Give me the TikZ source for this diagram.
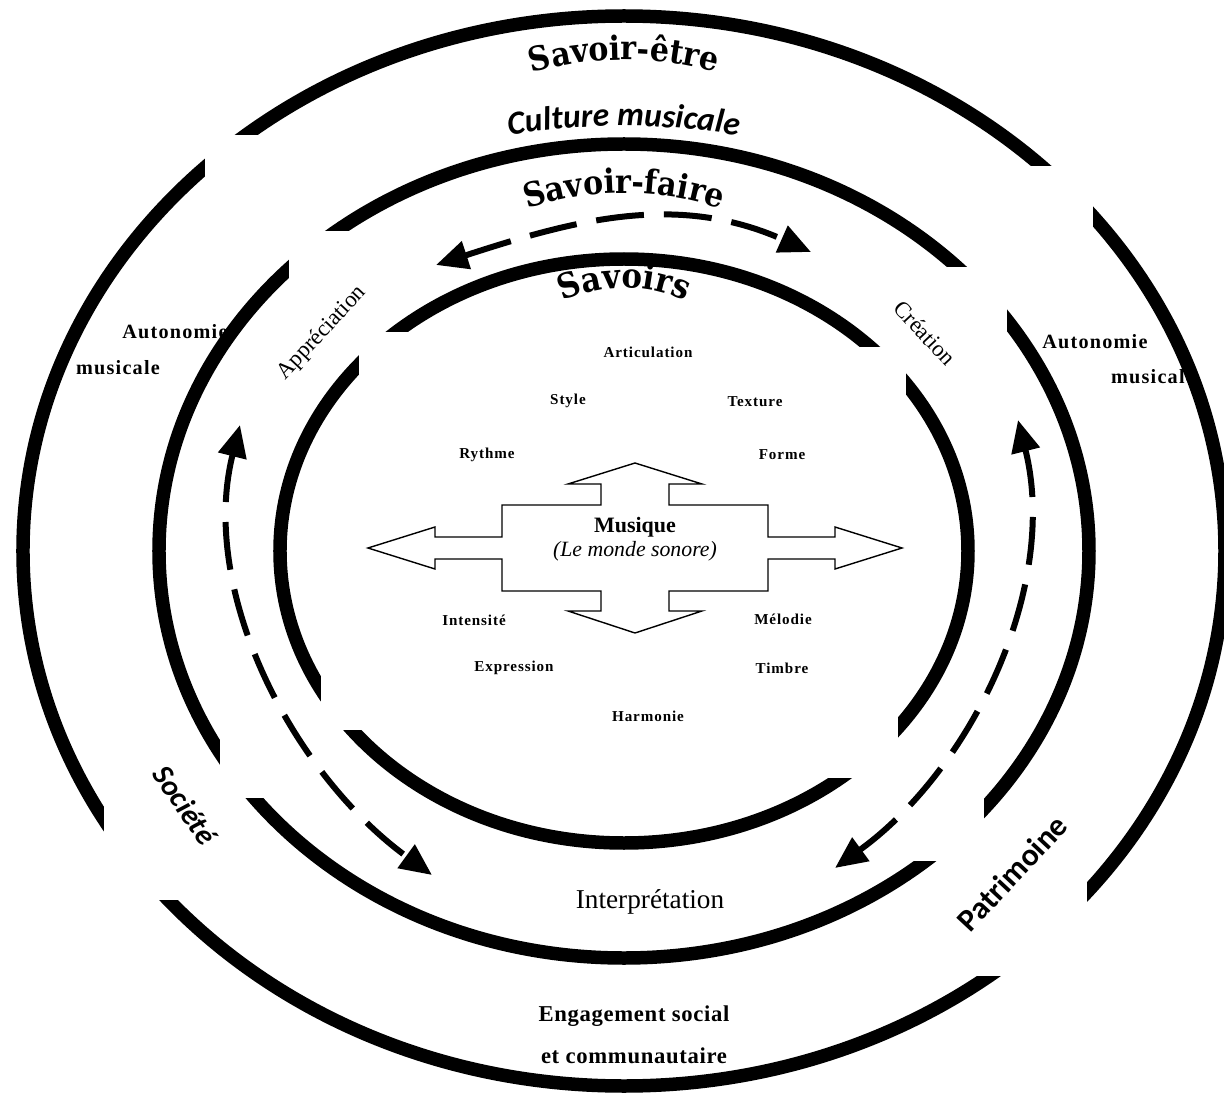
\documentclass[tikz,border=0pt]{standalone}
\usepackage{fontspec}
\setmainfont{Liberation Serif}
\newfontfamily\arcfont{DejaVu Serif Condensed}
\newfontfamily\humfont{Carlito}
\newfontfamily\spacedfont[LetterSpace=6]{Liberation Serif}
\newfontfamily\widefont[LetterSpace=3]{Liberation Serif}
\usetikzlibrary{arrows.meta,decorations.text}

\begin{document}
\begin{tikzpicture}[
  x=0.02cm, y=0.02cm,
  ringline/.style={line width=0.27cm},
  cyclearrow/.style={line width=0.12cm, dash pattern=on 0.96cm off 0.4cm,
    {Triangle[length=0.64cm,width=0.56cm]}-{Triangle[length=0.64cm,width=0.56cm]}},
  elem/.style={font=\spacedfont\bfseries\fontsize{8.6}{10}\selectfont},
  zone/.style={font=\spacedfont\bfseries\fontsize{11.5}{13}\selectfont},
  arclabel/.style={decorate, decoration={text along path, text align=center, text={#1}}}
]
  \useasboundingbox (-624,-548) rectangle (600,551);
  \fill[white] (-624,-548) rectangle (600,551);

  % outer ring
  \begin{scope}
    \clip (-419,416) -- (0,416) -- (0,385) -- (469,385) -- (469,700) -- (-419,700) -- cycle
          (-700,416) -- (-419,416) -- (-419,0) -- (-520,0) -- (-520,-349) -- (-700,-349) -- cycle
          (469,385) -- (700,385) -- (700,-425) -- (463,-425) -- (463,0) -- (469,0) -- cycle
          (-520,-349) -- (0,-349) -- (0,-425) -- (463,-425) -- (463,-700) -- (-520,-700) -- cycle;
    \draw[ringline] (0,0) ellipse [x radius=601, y radius=535];
  \end{scope}

  % middle ring
  \begin{scope}
    \clip (-335,320) -- (0,320) -- (0,284) -- (383,284) -- (383,700) -- (-335,700) -- cycle
          (-700,320) -- (-335,320) -- (-335,0) -- (-404,0) -- (-404,-247) -- (-700,-247) -- cycle
          (383,284) -- (700,284) -- (700,-310) -- (360,-310) -- (360,0) -- (383,0) -- cycle
          (-404,-247) -- (0,-247) -- (0,-310) -- (360,-310) -- (360,-700) -- (-404,-700) -- cycle;
    \draw[ringline] (0,0) ellipse [x radius=465, y radius=407];
  \end{scope}

  % inner ring
  \begin{scope}
    \clip (-265,219) -- (0,219) -- (0,204) -- (282,204) -- (282,700) -- (-265,700) -- cycle
          (-700,219) -- (-265,219) -- (-265,0) -- (-303,0) -- (-303,-179) -- (-700,-179) -- cycle
          (282,204) -- (700,204) -- (700,-227) -- (274,-227) -- (274,0) -- (282,0) -- cycle
          (-303,-179) -- (0,-179) -- (0,-227) -- (274,-227) -- (274,-700) -- (-303,-700) -- cycle;
    \draw[ringline] (0,0) ellipse [x radius=344, y radius=292];
  \end{scope}

  % ring titles
  \path[arclabel={|\arcfont\bfseries\fontsize{19}{19}\selectfont|Savoir-être}]
    ([shift={(0,151)}]112:340) arc[start angle=112, end angle=68, radius=340];
  \path[arclabel={|\humfont\bfseries\itshape\fontsize{19}{19}\selectfont|Culture musicale}]
    ([shift={(0,-259)}]106:684) arc[start angle=106, end angle=74, radius=684];
  \path[arclabel={|\arcfont\bfseries\fontsize{19}{19}\selectfont|Savoir-faire}]
    ([shift={(0,49)}]116:309) arc[start angle=116, end angle=64, radius=309];
  \path[arclabel={|\arcfont\bfseries\fontsize{19.5}{19.5}\selectfont|Savoirs}]
    ([shift={(0,113)}]130:150) arc[start angle=130, end angle=50, radius=150];

  % central arrows
  \coordinate (mus) at (11,3);
  \begin{scope}[shift={(mus)}]
    \draw[line width=0.8pt] (0,85) -- (67,64) -- (34,64) -- (34,43) -- (133,43) -- (133,11)
      -- (200,11) -- (200,21) -- (267,0) -- (200,-21) -- (200,-11) -- (133,-11) -- (133,-43)
      -- (34,-43) -- (34,-63) -- (67,-63) -- (0,-85) -- (-67,-63) -- (-34,-63) -- (-34,-43)
      -- (-133,-43) -- (-133,-11) -- (-200,-11) -- (-200,-21) -- (-267,0) -- (-200,21)
      -- (-200,11) -- (-133,11) -- (-133,43) -- (-34,43) -- (-34,64) -- (-67,64) -- cycle;
  \end{scope}
  \node[font=\bfseries\fontsize{12.5}{14}\selectfont] (musique) at (11,24) {Musique};
  \node[font=\itshape\fontsize{12.4}{14}\selectfont] (monde) at (11,0) {(Le monde sonore)};

  % elements
  \node[elem] (articulation) at (24,199) {Articulation};
  \node[elem] (style) at (-56,150) {Style};
  \node[elem] (texture) at (131,149) {Texture};
  \node[elem] (rythme) at (-137,96) {Rythme};
  \node[elem] (forme) at (158,96) {Forme};
  \node[elem] (intensite) at (-150,-69) {Intensité};
  \node[elem] (melodie) at (159,-68) {Mélodie};
  \node[elem] (expression) at (-110,-117) {Expression};
  \node[elem] (timbre) at (158,-117) {Timbre};
  \node[elem] (harmonie) at (24,-165) {Harmonie};

  % competences
  \node[rotate=47, font=\fontsize{13}{15}\selectfont] (apprec) at (-302,218) {Appréciation};
  \node[rotate=-47, font=\fontsize{13}{15}\selectfont] (creation) at (301,218) {Création};
  \node[font=\fontsize{15.5}{18}\selectfont] (interp) at (26,-351) {Interprétation};

  % outer zones
  \node[zone] (autoL) at (-449,219) {Autonomie};
  \node[zone] (musL) at (-506,183) {musicale};
  \node[zone] (autoR) at (471,209) {Autonomie};
  \node[zone] (musR) at (529,174) {musicale};
  \node[font=\widefont\bfseries\fontsize{12.9}{15}\selectfont] (engage) at (10,-465) {Engagement social};
  \node[font=\widefont\bfseries\fontsize{12.9}{15}\selectfont] (commun) at (10,-505) {et communautaire};
  \node[rotate=-55, font=\humfont\bfseries\itshape\fontsize{17}{20}\selectfont] (societe) at (-439,-254) {Société};
  \node[rotate=47, font=\humfont\bfseries\fontsize{18}{20}\selectfont] (patrimoine) at (388,-322) {Patrimoine};

  % cycle arrows
  \coordinate (tl) at (-188,286);
  \coordinate (tr) at (187,299);
  \coordinate (lt) at (-384,126);
  \coordinate (lb) at (-192,-324);
  \coordinate (rt) at (394,131);
  \coordinate (rb) at (211,-317);
  \draw[cyclearrow] (tl) to[out=18, in=156] (tr);
  \draw[cyclearrow] (lt) to[out=-104, in=144, looseness=0.9] (lb);
  \draw[cyclearrow] (rt) to[out=-76, in=36, looseness=0.9] (rb);

\end{tikzpicture}
\end{document}
